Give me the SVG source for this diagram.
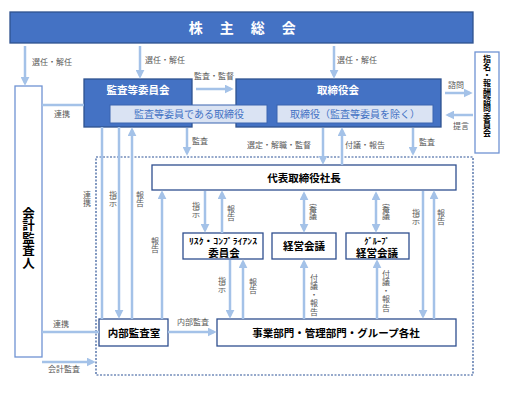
<svg xmlns="http://www.w3.org/2000/svg" width="507" height="400" viewBox="0 0 507 400">
<style>
text{font-family:"Noto Sans CJK JP","Noto Sans",sans-serif;}
.dark{fill:#4472c4;stroke:#2f528f;stroke-width:1.3;}
.light{fill:#dae3f3;stroke:#3a64b0;stroke-width:1;}
.box{fill:#fff;stroke:#2f4f8f;stroke-width:1.3;}
.box2{fill:#fff;stroke:#6f93d3;stroke-width:1.3;}
.wt{fill:#fff;font-weight:bold;font-size:10.5px;text-anchor:middle;}
.lt{fill:#4472c4;font-size:10px;text-anchor:middle;}
.bt{fill:#000;font-weight:bold;font-size:10.5px;text-anchor:middle;}
.lb{fill:#595959;font-size:8px;}
.vl{fill:#595959;font-size:8px;letter-spacing:0.5px;writing-mode:vertical-rl;text-orientation:upright;text-anchor:middle;}
.vb{fill:#000;font-weight:bold;writing-mode:vertical-rl;text-orientation:upright;text-anchor:middle;}
.c{stroke:#a4c2e8;stroke-width:2.5;fill:none;}
.a{marker-end:url(#ah);}
.d{marker-end:url(#ah);marker-start:url(#ah);}
</style>
<defs>
<marker id="ah" viewBox="0 0 10 10" markerUnits="userSpaceOnUse" markerWidth="9" markerHeight="9" refX="7" refY="5" orient="auto-start-reverse">
<path d="M0,0 L10,5 L0,10 z" fill="#a4c2e8"/>
</marker>
</defs>

<g id="shareholders">
<rect class="dark" x="10" y="12" width="463" height="31"/>
<text class="wt" x="243" y="33" style="font-size:14px;letter-spacing:1.5px">株　主　総　会</text>
</g>

<g id="accounting-auditor">
<rect class="box2" x="15" y="86" width="27" height="271"/>
<text class="vb" x="28.5" y="238" style="font-size:12.5px">会計監査人</text>
</g>

<g id="board">
<rect class="dark" x="236" y="79" width="205" height="48"/>
<text class="wt" x="338" y="94">取締役会</text>
<rect class="light" x="277" y="105" width="156" height="18"/>
<text class="lt" x="355" y="118">取締役（監査等委員を除く）</text>
</g>

<g id="audit-committee">
<rect class="dark" x="84" y="79" width="108" height="48"/>
<text class="wt" x="138" y="94">監査等委員会</text>
<rect class="light" x="110" y="105" width="157" height="18"/>
<text class="lt" x="189" y="118">監査等委員である取締役</text>
</g>

<g id="nomination-committee">
<rect class="box2" x="475" y="52" width="24" height="101"/>
<text class="vb" x="487" y="96" style="font-size:8px;letter-spacing:0.3px">指名・報酬諮問委員会</text>
</g>

<g id="executive-area">
<rect x="96" y="157" width="377" height="218" fill="none" stroke="#2f5597" stroke-width="1.2" stroke-dasharray="2 1.5"/>
</g>

<g id="president">
<rect class="box" x="152" y="165" width="304" height="25"/>
<text class="bt" x="304" y="181.5">代表取締役社長</text>
</g>

<g id="risk-committee">
<rect class="box" x="183" y="233" width="80" height="26"/>
<text class="bt" x="223" y="244" textLength="68" lengthAdjust="spacingAndGlyphs" style="font-size:8.5px">ﾘｽｸ・ｺﾝﾌﾟﾗｲｱﾝｽ</text>
<text class="bt" x="224" y="256.5">委員会</text>
</g>

<g id="management-meeting">
<rect class="box" x="272" y="233" width="64" height="26"/>
<text class="bt" x="304" y="250">経営会議</text>
</g>

<g id="group-management-meeting">
<rect class="box" x="346" y="233" width="63" height="26"/>
<text class="bt" x="377" y="244" style="font-size:8.5px">ｸﾞﾙｰﾌﾟ</text>
<text class="bt" x="377" y="256.5">経営会議</text>
</g>

<g id="internal-audit">
<rect class="box" x="99" y="319" width="69" height="27"/>
<text class="bt" x="134" y="336.5">内部監査室</text>
</g>

<g id="business-units">
<rect class="box" x="217" y="319" width="239" height="27"/>
<text class="bt" x="336" y="336.5">事業部門・管理部門・グループ各社</text>
</g>

<g id="connectors">
<line class="c a" x1="25" y1="46" x2="25" y2="83"/>
<line class="c a" x1="140" y1="46" x2="140" y2="76"/>
<line class="c a" x1="334" y1="46" x2="334" y2="76"/>
<line class="c a" x1="196" y1="89" x2="231" y2="89"/>
<line class="c" x1="42" y1="105" x2="84" y2="105"/>
<line class="c a" x1="445" y1="93" x2="470" y2="93"/>
<line class="c a" x1="473" y1="115" x2="448" y2="115"/>
<line class="c a" x1="187" y1="128" x2="187" y2="153"/>
<line class="c a" x1="323" y1="128" x2="323" y2="162"/>
<line class="c a" x1="342" y1="165" x2="342" y2="130"/>
<line class="c a" x1="413" y1="128" x2="413" y2="153"/>
<line class="c" x1="102" y1="127" x2="102" y2="319"/>
<line class="c a" x1="119" y1="127" x2="119" y2="316"/>
<line class="c a" x1="132" y1="319" x2="132" y2="130"/>
<line class="c a" x1="162" y1="319" x2="162" y2="193"/>
<line class="c a" x1="205" y1="191" x2="205" y2="230"/>
<line class="c a" x1="222" y1="233" x2="222" y2="193"/>
<line class="c d" x1="304" y1="194" x2="304" y2="230"/>
<line class="c d" x1="376" y1="194" x2="376" y2="230"/>
<line class="c a" x1="423" y1="191" x2="423" y2="316"/>
<line class="c a" x1="434" y1="319" x2="434" y2="193"/>
<line class="c a" x1="230" y1="260" x2="230" y2="316"/>
<line class="c a" x1="243" y1="319" x2="243" y2="262"/>
<line class="c a" x1="304" y1="319" x2="304" y2="262"/>
<line class="c a" x1="377" y1="319" x2="377" y2="262"/>
<line class="c" x1="42" y1="332" x2="99" y2="332"/>
<line class="c a" x1="168" y1="332" x2="214" y2="332"/>
<line class="c a" x1="42" y1="362" x2="93" y2="362"/>
</g>

<g id="labels">
<text class="lb" x="32" y="65">選任・解任</text>
<text class="lb" x="145" y="63">選任・解任</text>
<text class="lb" x="337" y="63">選任・解任</text>
<text class="lb" x="194" y="79">監査・監督</text>
<text class="lb" x="54" y="117">連携</text>
<text class="lb" x="448" y="88">諮問</text>
<text class="lb" x="453" y="129">提言</text>
<text class="lb" x="192" y="144">監査</text>
<text class="lb" x="247" y="148">選定・解職・監督</text>
<text class="lb" x="345" y="148">付議・報告</text>
<text class="lb" x="419" y="145">監査</text>
<text class="lb" x="177" y="325">内部監査</text>
<text class="lb" x="53" y="327">連携</text>
<text class="lb" x="48" y="372">会計監査</text>
<text class="vl" x="87" y="199">連携</text>
<text class="vl" x="113" y="199">指示</text>
<text class="vl" x="140" y="199">報告</text>
<text class="vl" x="155" y="245">報告</text>
<text class="vl" x="196" y="210">指示</text>
<text class="vl" x="231" y="213">報告</text>
<text class="vl" x="313" y="212">審議</text>
<text class="vl" x="386" y="212">審議</text>
<text class="vl" x="416" y="217">指示</text>
<text class="vl" x="441" y="217">報告</text>
<text class="vl" x="222" y="285">指示</text>
<text class="vl" x="253" y="286">報告</text>
<text class="vl" x="314" y="295">付議・報告</text>
<text class="vl" x="386" y="291">付議・報告</text>
</g>
</svg>
